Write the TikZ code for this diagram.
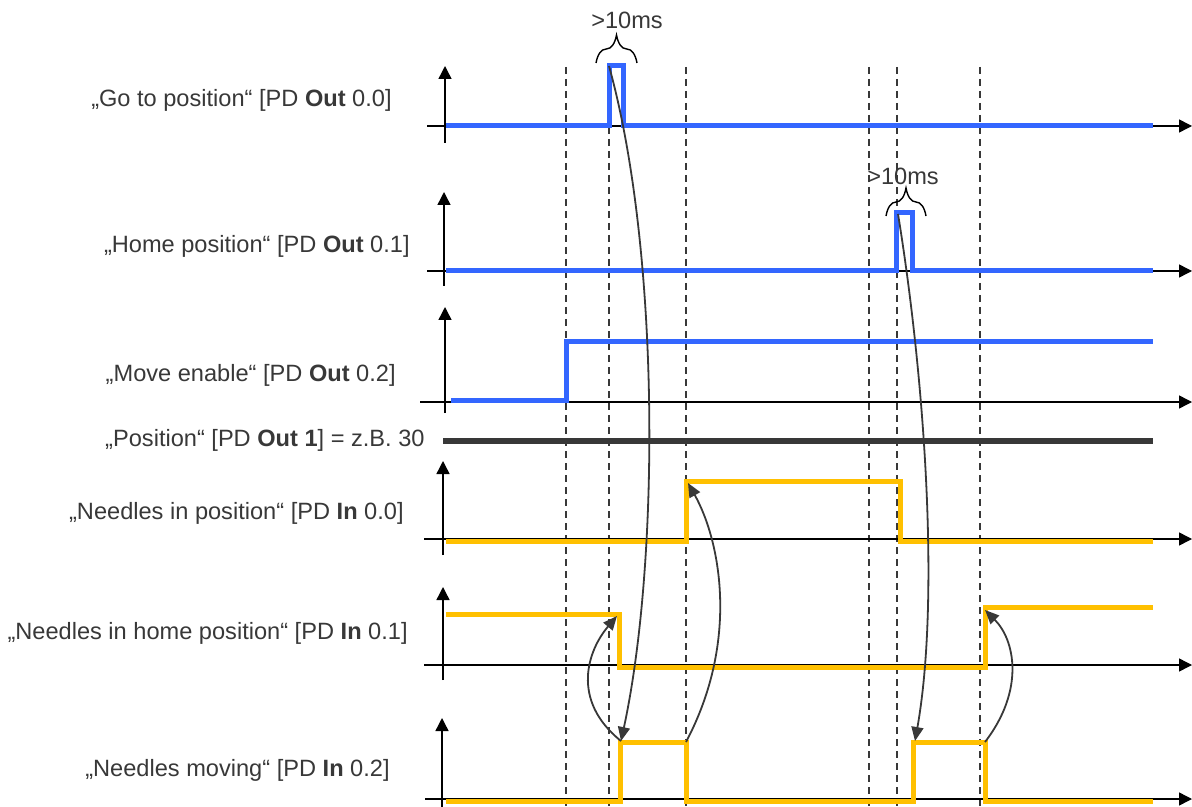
\documentclass[tikz,border=0pt]{standalone}
\usepackage{fontspec}
\setmainfont{Liberation Sans}
\usetikzlibrary{arrows.meta,decorations.pathreplacing}
\definecolor{sigblue}{RGB}{51,102,255}
\definecolor{sigyellow}{RGB}{255,192,0}
\definecolor{darkline}{RGB}{56,56,56}
\begin{document}
\begin{tikzpicture}[x=0.5pt, y=-0.5pt,
  every node/.style={font=\fontsize{11.8}{14}\selectfont, text=darkline, inner sep=0pt},
  axis/.style={line width=0.7pt, black, -{Triangle[length=6.5pt,width=6.5pt]}},
  bluesig/.style={line width=2.5pt, sigblue},
  yellowsig/.style={line width=2.5pt, sigyellow},
  guide/.style={line width=0.6pt, darkline, dash pattern=on 3.5pt off 2.5pt},
  link/.style={line width=0.9pt, darkline, -{Triangle[length=7pt,width=6pt]}},
  gap/.style={line width=0.7pt, black, decorate, decoration={brace, amplitude=14pt}}]
\useasboundingbox (0,0) rectangle (1192,807);
% labels
\node[anchor=east] (lblgo) at (392,100) {„Go to position“ [PD \textbf{Out} 0.0]};
\node[anchor=east] (lblhome) at (410,246) {„Home position“ [PD \textbf{Out} 0.1]};
\node[anchor=east] (lblmove) at (396,375) {„Move enable“ [PD \textbf{Out} 0.2]};
\node[anchor=east] (lblpos) at (425,440) {„Position“ [PD \textbf{Out 1}] = z.B. 30};
\node[anchor=east] (lblinpos) at (404,513) {„Needles in position“ [PD \textbf{In} 0.0]};
\node[anchor=east] (lblinhome) at (408,633) {„Needles in home position“ [PD \textbf{In} 0.1]};
\node[anchor=east] (lblmoving) at (390,770) {„Needles moving“ [PD \textbf{In} 0.2]};
% time marks
\draw[guide] (566,67) -- (566,807);
\draw[guide] (609,67) -- (609,807);
\draw[guide] (686,67) -- (686,807);
\draw[guide] (869,67) -- (869,807);
\draw[guide] (897,67) -- (897,807);
\draw[guide] (980,67) -- (980,807);
% axes
\draw[axis] (445,143) -- (445,66);
\draw[axis] (427,126) -- (1192,126);
\draw[axis] (444,286) -- (444,192);
\draw[axis] (427,271) -- (1192,271);
\draw[axis] (445,413) -- (445,307);
\draw[axis] (420,402) -- (1192,402);
\draw[axis] (443,555) -- (443,461);
\draw[axis] (424,539) -- (1192,539);
\draw[axis] (443,680) -- (443,587);
\draw[axis] (424,665) -- (1192,665);
\draw[axis] (442,807) -- (442,718);
\draw[axis] (425,799) -- (1192,799);
% signals
\draw[bluesig] (446,126) -- (609,126) -- (609,66) -- (623,66) -- (623,126) -- (1153,126);
\draw[bluesig] (446,271) -- (896,271) -- (896,213) -- (912,213) -- (912,271) -- (1153,271);
\draw[bluesig] (451,400) -- (566,400) -- (566,341) -- (1153,341);
\draw[line width=3pt, darkline] (443,441) -- (1153,441);
\draw[yellowsig] (446,541) -- (686,541) -- (686,481) -- (900,481) -- (900,541) -- (1153,541);
\draw[yellowsig] (446,614) -- (619,614) -- (619,667) -- (985,667) -- (985,607) -- (1153,607);
\draw[yellowsig] (446,801) -- (620,801) -- (620,742) -- (686,742) -- (686,801) -- (913,801) -- (913,742) -- (985,742) -- (985,801) -- (1153,801);
% edges
\coordinate (gotop) at (609,66);
\coordinate (hometop) at (898,214);
\coordinate (inposrise) at (688,483);
\coordinate (inhomefall) at (617,616);
\coordinate (inhomerise) at (985,610);
\coordinate (mvrise1) at (621,741);
\coordinate (mvfall1) at (686,742);
\coordinate (mvrise2) at (915,741);
\coordinate (mvfall2) at (985,742);
% dependencies
\draw[link] (gotop) .. controls (660,250) and (660,560) .. (mvrise1);
\draw[link] (mvfall1) .. controls (740,640) and (720,540) .. (inposrise);
\draw[link] (mvrise1) .. controls (570,700) and (588,650) .. (inhomefall);
\draw[link] (hometop) .. controls (925,380) and (940,600) .. (mvrise2);
\draw[link] (mvfall2) .. controls (1025,690) and (1015,640) .. (inhomerise);
% pulse widths
\draw[gap] (596,63) -- (637,63);
\node (gapgo) at (627,20) {>10ms};
\draw[gap] (886,216) -- (926,216);
\node (gaphome) at (903,176) {>10ms};
\end{tikzpicture}
\end{document}
